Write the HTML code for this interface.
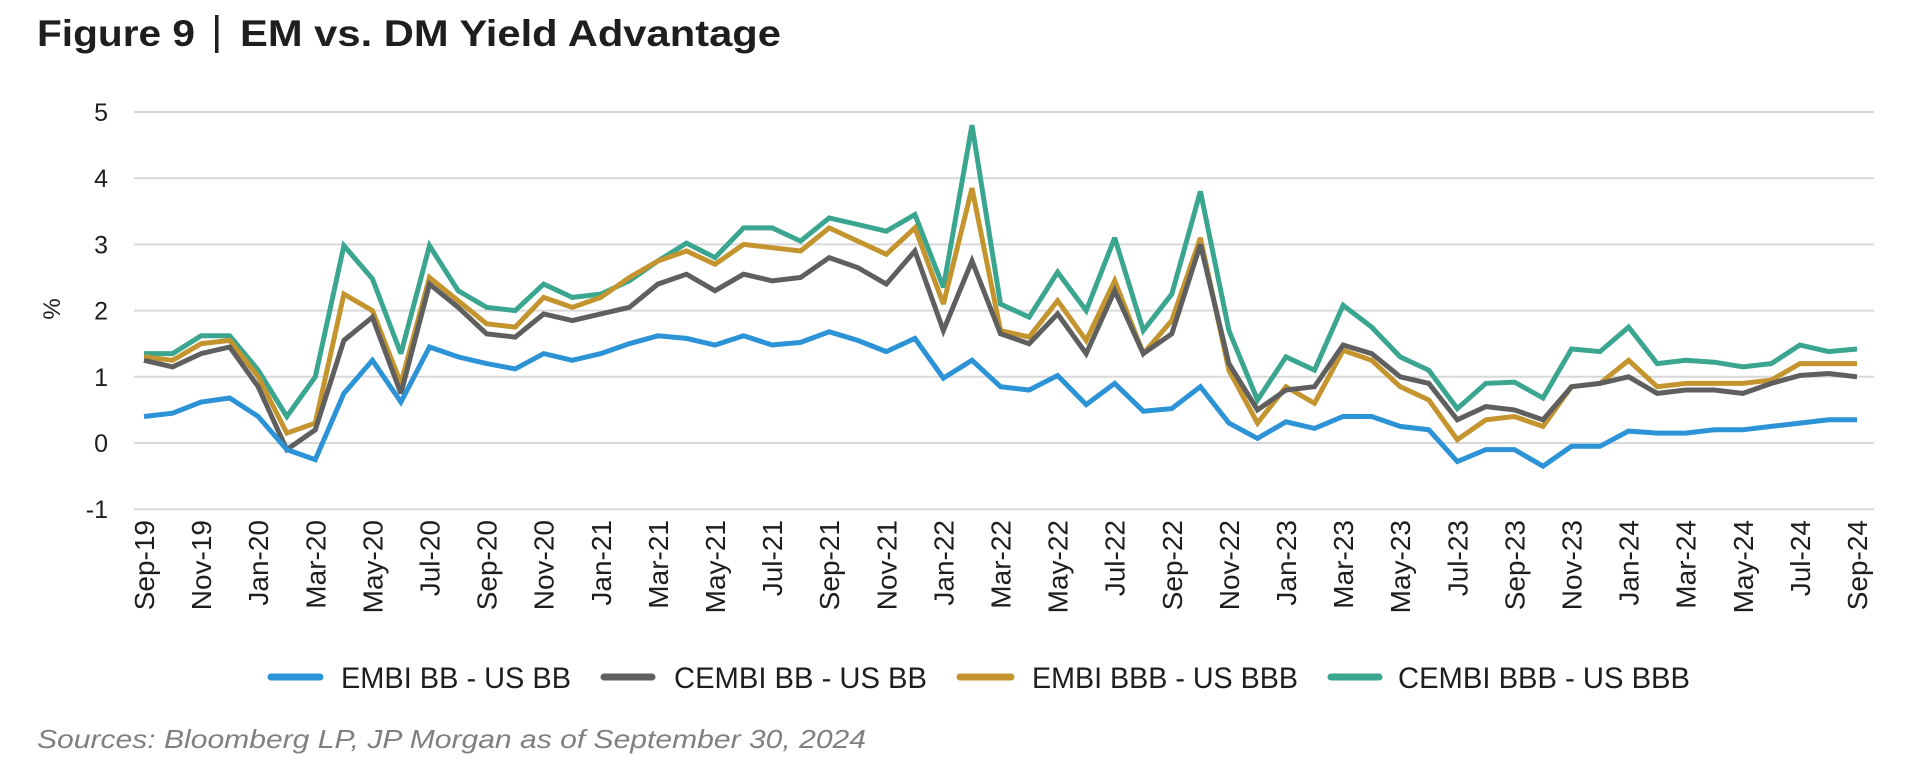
<!DOCTYPE html>
<html><head><meta charset="utf-8"><style>
html,body{margin:0;padding:0;background:#fff;}
svg{display:block;font-family:"Liberation Sans",sans-serif;}
</style></head><body>
<svg id="c" width="1913" height="775" xmlns="http://www.w3.org/2000/svg">
<text x="37" y="46" font-size="37" font-weight="bold" fill="#1e1e1e" textLength="158" lengthAdjust="spacingAndGlyphs">Figure 9</text>
<rect x="215" y="15" width="3.5" height="38" fill="#1e1e1e"/>
<text x="240" y="46" font-size="37" font-weight="bold" fill="#1e1e1e" textLength="541" lengthAdjust="spacingAndGlyphs">EM vs. DM Yield Advantage</text>
<text transform="translate(60,309) rotate(-90)" font-size="24" fill="#1e1e1e" text-anchor="middle">%</text>
<g id="grid"></g><g id="series"></g><g id="xl"></g>
<g font-size="30" fill="#1e1e1e">
<line x1="271" y1="677" x2="320" y2="677" stroke="#2b93d6" stroke-width="7" stroke-linecap="round"/>
<text x="341" y="688" textLength="230" lengthAdjust="spacingAndGlyphs">EMBI BB - US BB</text>
<line x1="604" y1="677" x2="652" y2="677" stroke="#5f5f5f" stroke-width="7" stroke-linecap="round"/>
<text x="674" y="688" textLength="253" lengthAdjust="spacingAndGlyphs">CEMBI BB - US BB</text>
<line x1="960" y1="677" x2="1011" y2="677" stroke="#c4952f" stroke-width="7" stroke-linecap="round"/>
<text x="1032" y="688" textLength="266" lengthAdjust="spacingAndGlyphs">EMBI BBB - US BBB</text>
<line x1="1331" y1="677" x2="1379" y2="677" stroke="#3ba690" stroke-width="7" stroke-linecap="round"/>
<text x="1398" y="688" textLength="292" lengthAdjust="spacingAndGlyphs">CEMBI BBB - US BBB</text>
</g>
<text x="37" y="748" font-size="26" font-style="italic" fill="#808080" textLength="829" lengthAdjust="spacingAndGlyphs">Sources: Bloomberg LP, JP Morgan as of September 30, 2024</text>
</svg>
<script>
var ns="http://www.w3.org/2000/svg";
function el(t,a,p,txt){var e=document.createElementNS(ns,t);for(var k in a)e.setAttribute(k,a[k]);if(txt!=null)e.textContent=txt;p.appendChild(e);return e;}
function Y(v){return 112+(5-v)*66.2;}
function X(i){return 144+i*28.55;}
var g=document.getElementById('grid');
for(var v=-1;v<=5;v++){el('line',{x1:134,x2:1874,y1:Y(v),y2:Y(v),stroke:'#d9d9d9','stroke-width':2},g);
el('text',{x:108,y:Y(v)+9,'font-size':25,'text-anchor':'end',fill:'#1e1e1e'},g,String(v));}
var blue=[0.4,0.45,0.62,0.68,0.4,-0.1,-0.25,0.75,1.25,0.62,1.45,1.3,1.2,1.12,1.35,1.25,1.35,1.5,1.62,1.58,1.48,1.62,1.48,1.52,1.68,1.55,1.38,1.58,0.98,1.25,0.85,0.8,1.02,0.58,0.9,0.48,0.52,0.85,0.3,0.07,0.32,0.22,0.4,0.4,0.25,0.2,-0.28,-0.1,-0.1,-0.35,-0.05,-0.05,0.18,0.15,0.15,0.2,0.2,0.25,0.3,0.35,0.35];
var gray=[1.25,1.15,1.35,1.45,0.85,-0.1,0.2,1.55,1.9,0.75,2.4,2.05,1.65,1.6,1.95,1.85,1.95,2.05,2.4,2.55,2.3,2.55,2.45,2.5,2.8,2.65,2.4,2.9,1.7,2.75,1.65,1.5,1.95,1.35,2.3,1.35,1.65,3.0,1.2,0.5,0.8,0.85,1.48,1.35,1.0,0.9,0.35,0.55,0.5,0.35,0.85,0.9,1.0,0.75,0.8,0.8,0.75,0.9,1.02,1.05,1.0];
var gold=[1.3,1.25,1.5,1.55,1.0,0.15,0.3,2.25,2.0,0.9,2.5,2.15,1.8,1.75,2.2,2.05,2.2,2.5,2.75,2.9,2.7,3.0,2.95,2.9,3.25,3.05,2.85,3.25,2.1,3.85,1.7,1.6,2.15,1.55,2.45,1.35,1.85,3.1,1.1,0.3,0.85,0.6,1.4,1.25,0.85,0.65,0.05,0.35,0.4,0.25,0.85,0.9,1.25,0.85,0.9,0.9,0.9,0.95,1.2,1.2,1.2];
var teal=[1.35,1.35,1.62,1.62,1.1,0.4,1.0,2.98,2.48,1.35,2.98,2.3,2.05,2.0,2.4,2.2,2.25,2.45,2.75,3.02,2.8,3.25,3.25,3.05,3.4,3.3,3.2,3.45,2.35,4.8,2.1,1.9,2.58,2.0,3.1,1.7,2.25,3.8,1.7,0.65,1.3,1.1,2.08,1.75,1.3,1.1,0.52,0.9,0.92,0.68,1.42,1.38,1.75,1.2,1.25,1.22,1.15,1.2,1.48,1.38,1.42];
var s=document.getElementById('series');
[[teal,'#3ba690'],[gold,'#c4952f'],[gray,'#5f5f5f'],[blue,'#2b93d6']].forEach(function(d){
el('polyline',{points:d[0].map(function(v,i){return X(i).toFixed(1)+','+Y(v).toFixed(1);}).join(' '),fill:'none',stroke:d[1],'stroke-width':5,'stroke-linejoin':'miter','stroke-miterlimit':3},s);});
var names=['Jan','Feb','Mar','Apr','May','Jun','Jul','Aug','Sep','Oct','Nov','Dec'];
var xl=document.getElementById('xl');
for(var i=0;i<=60;i+=2){var mo=(8+i)%12;var yr=19+Math.floor((8+i)/12);
el('text',{transform:'translate('+(X(i)+10)+',520) rotate(-90)','font-size':28,'text-anchor':'end',fill:'#1e1e1e'},xl,names[mo]+'-'+yr);}
</script>
</body></html>
